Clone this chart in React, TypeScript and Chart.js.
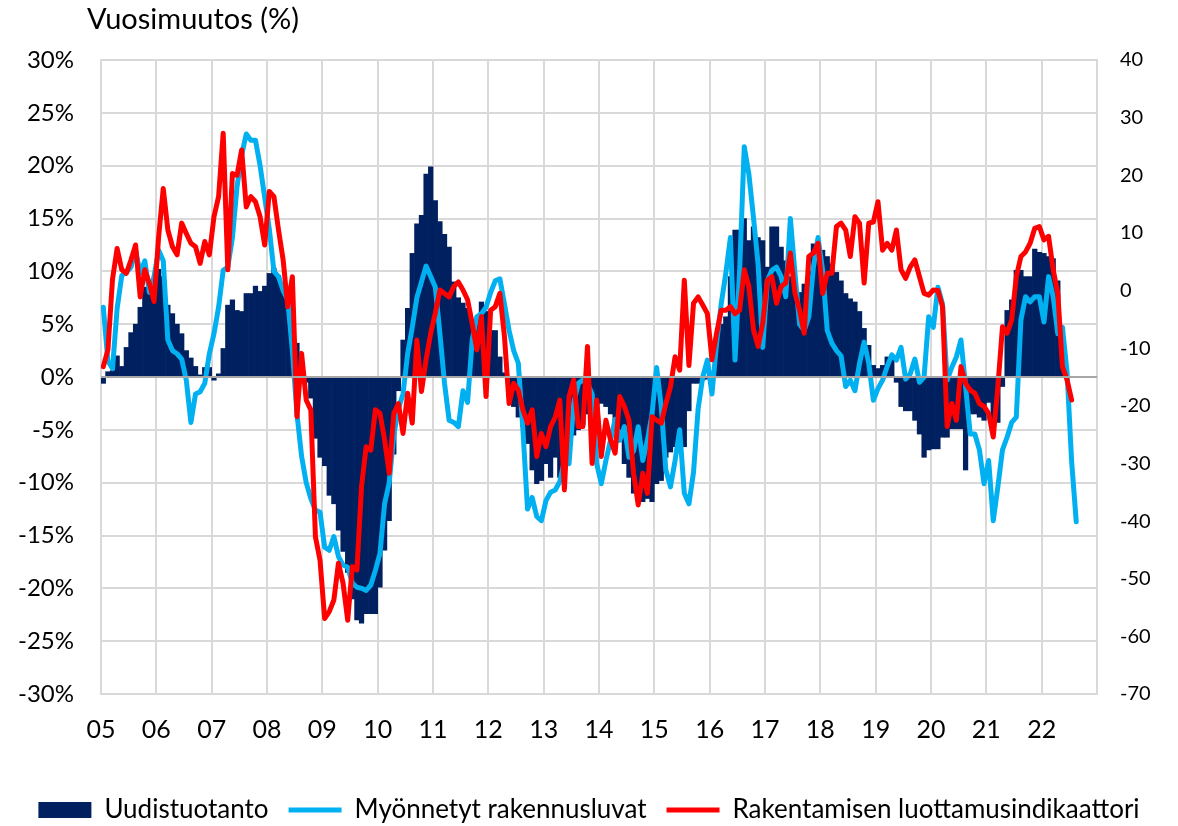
import React, { useEffect, useRef } from 'react';
import { Chart, registerables } from 'chart.js';

Chart.register(...registerables);

// Monthly data starting January 2005
const START_YEAR = 2005;
const END_YEAR = 2023;

// Uudistuotanto, annual change % (left axis)
const newConstruction = [
  -0.6, 0.5, 0.6, 2.0, 1.0, 2.8, 4.2, 5.0, 6.6, 8.5, 7.9, 8.5,
  10.2, 9.5, 6.8, 6.0, 5.0, 4.1, 2.5, 1.8, 1.0, 0.2, 0.9, 0.9,
  -0.3, 0.3, 2.7, 6.8, 7.3, 6.3, 6.2, 7.9, 7.9, 8.6, 8.1, 8.6,
  9.8, 10.3, 9.6, 8.0, 6.5, 4.0, 3.2, 0.8, -0.5, -2.0, -5.8, -7.6,
  -8.4, -11.2, -12.0, -14.5, -16.5, -18.5, -21.0, -23.0, -23.3, -22.4, -22.4, -22.4,
  -19.9, -16.4, -13.6, -7.3, -1.3, 3.5, 6.5, 11.7, 14.5, 15.3, 19.2, 19.9,
  16.7, 14.7, 13.5, 12.3, 9.0, 7.5, 7.0, 6.5, 5.0, 5.5, 7.1, 6.2,
  4.4, 4.4, 1.9, 0.4, -1.3, -2.8, -3.8, -4.7, -6.3, -8.8, -10.1, -9.8,
  -8.2, -9.5, -7.6, -9.5, -6.5, -6.0, -5.5, -5.0, -4.5, -3.5, -2.5, -3.2,
  -2.5, -2.8, -3.5, -4.5, -5.0, -8.2, -9.5, -11.0, -11.7, -11.8, -11.5, -11.8,
  -10.1, -9.8, -7.6, -7.1, -6.6, -6.6, -6.6, -3.2, -0.6, -0.6, -0.3, -0.2,
  0.2, 3.8, 5.0, 5.7, 9.5, 13.9, 13.9, 15.0, 12.9, 14.2, 13.2, 12.9,
  10.4, 14.2, 14.2, 12.3, 11.0, 9.5, 8.5, 8.0, 8.8, 10.0, 12.6, 12.6,
  12.0, 11.4, 10.7, 9.9, 9.1, 7.9, 7.4, 7.1, 6.2, 4.6, 3.0, 1.1,
  0.8, 1.1, 1.9, 1.9, -0.5, -2.8, -3.2, -3.2, -4.1, -5.4, -7.6, -6.9,
  -6.8, -6.8, -5.7, -5.7, -4.9, -4.9, -4.9, -8.8, -3.5, -3.5, -3.8, -4.1,
  -2.4, -4.3, -4.3, -0.9, 6.3, 7.3, 10.1, 10.1, 9.5, 9.5, 12.1, 11.8,
  11.7, 11.4, 11.2, 9.1, 4.7,
];

// Myönnetyt rakennusluvat, annual change % (left axis)
const buildingPermits = [
  6.6, 1.5, 0.8, 6.5, 9.6, 9.9, 10.4, 12.0, 9.8, 11.0, 8.0, 9.5,
  12.0, 11.0, 3.5, 2.5, 2.2, 1.7, -0.3, -4.3, -1.6, -1.4, -0.6, 2.2,
  4.1, 6.6, 10.1, 10.4, 13.2, 18.0, 21.0, 23.0, 22.4, 22.4, 20.0, 17.0,
  14.0, 10.0, 9.5, 8.2, 7.3, 2.5, -3.5, -7.5, -10.0, -11.5, -12.6, -12.8,
  -16.1, -16.4, -15.1, -17.0, -17.8, -18.0, -19.5, -19.9, -20.0, -20.2, -19.7, -18.3,
  -16.7, -12.0, -10.0, -5.5, -3.0, -1.6, 2.2, 4.7, 7.5, 9.0, 10.5, 9.5,
  8.5, 4.1, -0.6, -4.1, -4.3, -4.7, -1.3, -2.4, 3.5, 5.7, 6.0, 6.6,
  8.0, 9.1, 9.3, 6.9, 4.4, 2.5, 1.3, -5.0, -12.5, -11.4, -13.2, -13.6,
  -11.7, -10.9, -10.7, -9.9, -7.9, -8.2, -2.5, -0.6, -0.3, -0.6, -1.6, -8.2,
  -10.1, -7.9, -6.0, -4.0, -6.0, -4.7, -7.6, -7.0, -4.7, -7.9, -6.0, -3.5,
  0.9, -2.8, -8.8, -10.4, -7.9, -5.0, -11.0, -12.0, -9.0, -3.0, 0.0, 1.6,
  -1.6, 3.2, 6.9, 9.8, 13.2, 1.6, 10.1, 21.8, 19.2, 15.1, 10.7, 2.8,
  9.1, 10.1, 10.4, 9.5, 7.6, 15.0, 9.8, 5.0, 4.4, 5.7, 10.4, 13.2,
  10.1, 4.4, 3.2, 2.5, 2.0, -0.9, -0.3, -1.3, 1.3, 3.3, 1.3, -2.2,
  -1.1, -0.3, 1.0, 2.1, 1.6, 2.8, -0.2, 0.3, 1.7, -0.5, 0.0, 5.7,
  4.7, 8.5, 6.9, -0.3, 0.9, 1.9, 3.5, -0.9, -5.4, -5.4, -6.9, -10.1,
  -7.9, -13.6, -10.4, -6.9, -5.7, -4.3, -3.8, 5.4, 7.6, 7.1, 7.6, 7.6,
  5.2, 9.5, 7.6, 4.1, 4.7, 0.5, -8.0, -13.7,
];

// Rakentamisen luottamusindikaattori, balance figure (right axis)
const confidenceIndicator = [
  -13.2, -10.3, 2.0, 7.3, 3.6, 3.0, 5.3, 7.9, -1.1, 3.6, 1.2, -1.9,
  9.3, 17.7, 10.5, 7.6, 6.2, 11.7, 9.9, 8.2, 7.6, 4.7, 8.5, 6.2,
  12.8, 16.3, 27.3, 3.6, 20.3, 20.0, 24.4, 14.5, 16.3, 15.4, 12.8, 7.9,
  17.2, 16.3, 10.5, 5.3, -2.8, 2.4, -21.9, -10.9, -19.0, -20.7, -42.7, -46.8,
  -56.9, -55.7, -53.7, -47.3, -50.8, -57.2, -47.9, -48.5, -34.0, -27.1, -27.7, -20.7,
  -21.3, -25.9, -31.7, -21.3, -19.6, -24.8, -17.8, -23.0, -8.6, -17.5, -12.0, -7.4,
  -3.9, 0.1, -0.5, -1.1, 0.7, 1.5, 0.1, -1.6, -5.7, -10.3, -4.5, -18.4,
  -3.4, -2.8, -0.5, -8.0, -19.6, -16.1, -17.3, -20.7, -23.0, -20.7, -28.8, -24.8,
  -27.1, -23.6, -22.0, -19.0, -34.6, -18.4, -15.5, -23.6, -23.6, -9.7, -30.0, -19.0,
  -28.8, -22.5, -25.9, -28.2, -18.4, -20.1, -22.5, -31.7, -37.2, -31.7, -35.2, -21.9,
  -22.5, -23.0, -19.6, -16.7, -11.5, -13.8, 1.8, -13.0, -2.2, -1.1, -2.5, -4.0,
  -12.0, -7.4, -3.4, -3.4, -2.8, -4.0, -3.4, 3.6, 0.7, -6.8, -9.7, -5.7,
  1.8, 2.4, -2.2, 0.7, 1.3, 6.5, -0.5, -3.4, -7.4, 5.9, 6.5, 8.2,
  -0.5, 3.0, 3.0, 11.1, 11.7, 10.5, 5.9, 12.8, 11.7, 1.3, 11.7, 11.9,
  15.4, 7.0, 8.2, 7.0, 10.5, 3.6, 2.1, 4.1, 5.3, 2.4, -0.5, -0.8,
  0.1, 0.0, -2.8, -23.6, -19.6, -22.5, -13.2, -16.1, -17.3, -17.8, -19.6, -20.1,
  -21.3, -25.4, -16.7, -6.3, -7.4, -5.1, 2.4, 5.9, 6.7, 8.2, 10.8, 11.1,
  8.8, 9.4, 3.6, -0.5, -13.2, -15.5, -19.0,
];

const seriesLabels = ['Uudistuotanto', 'Myönnetyt rakennusluvat', 'Rakentamisen luottamusindikaattori'];
const titleText = 'Vuosimuutos (%)';

// month index -> decimal year (middle of the month)
const monthX = (i: number) => START_YEAR + (i + 0.5) / 12;
const toPoints = (arr: number[]) => arr.map((v, i) => ({ x: monthX(i), y: v }));

const FONT = 'Lato';
const GRID = '#d9d9d9';

export default function App() {
  const ref = useRef<HTMLCanvasElement | null>(null);

  useEffect(() => {
    if (!ref.current) return;

    const titlePlugin = {
      id: 'titleText',
      afterDraw(chart: any) {
        const c = chart.ctx;
        c.save();
        c.font = `29px ${FONT}`;
        c.fillStyle = '#000';
        c.textAlign = 'left';
        c.textBaseline = 'alphabetic';
        c.fillText(titleText, 87, 29);
        c.restore();
      },
    };

    const zeroLinePlugin = {
      id: 'zeroLine',
      afterDatasetsDraw(chart: any) {
        const { ctx, chartArea, scales } = chart;
        const y = scales.y.getPixelForValue(0);
        ctx.save();
        ctx.strokeStyle = '#a6a6a6';
        ctx.lineWidth = 2;
        ctx.beginPath();
        ctx.moveTo(chartArea.left, y);
        ctx.lineTo(chartArea.right, y);
        ctx.stroke();
        ctx.restore();
      },
    };

    Chart.defaults.font.family = FONT;
    Chart.defaults.color = '#000';

    const chart = new Chart(ref.current, {
      type: 'bar',
      data: {
        datasets: [
          {
            type: 'bar',
            label: seriesLabels[0],
            data: toPoints(newConstruction),
            backgroundColor: '#002060',
            borderWidth: 0,
            barPercentage: 1,
            categoryPercentage: 1,
            yAxisID: 'y',
            order: 3,
            pointStyle: 'rect',
          } as any,
          {
            type: 'line',
            label: seriesLabels[1],
            data: toPoints(buildingPermits),
            borderColor: '#00b0f0',
            backgroundColor: '#00b0f0',
            borderWidth: 5,
            pointRadius: 0,
            tension: 0,
            yAxisID: 'y',
            order: 2,
            pointStyle: 'line',
            borderCapStyle: 'round',
            borderJoinStyle: 'round',
          } as any,
          {
            type: 'line',
            label: seriesLabels[2],
            data: toPoints(confidenceIndicator),
            borderColor: '#ff0000',
            backgroundColor: '#ff0000',
            borderWidth: 5,
            pointRadius: 0,
            tension: 0,
            yAxisID: 'y1',
            order: 1,
            pointStyle: 'line',
            borderCapStyle: 'round',
            borderJoinStyle: 'round',
          } as any,
        ],
      },
      options: {
        responsive: false,
        animation: false,
        layout: { padding: { top: 60, left: 0, right: 0, bottom: -7 } },
        plugins: {
          legend: {
            position: 'bottom',
            labels: {
              usePointStyle: true,
              pointStyleWidth: 53,
              boxHeight: 16,
              padding: 20,
              color: '#000',
              font: { size: 26, family: FONT },
              sort: (a: any, b: any) => a.datasetIndex - b.datasetIndex,
            },
          },
          tooltip: { enabled: false },
        },
        scales: {
          x: {
            type: 'linear',
            min: START_YEAR,
            max: END_YEAR,
            offset: false,
            grid: { color: GRID, lineWidth: 2, drawTicks: false, offset: false },
            border: { color: GRID, width: 2 },
            ticks: {
              stepSize: 1,
              autoSkip: false,
              maxRotation: 0,
              padding: 21,
              font: { size: 25, family: FONT },
              callback: (v: any) => (v >= END_YEAR ? '' : String(v).slice(2)),
            },
            afterFit: (s: any) => {
              s.height = 83;
            },
          },
          y: {
            position: 'left',
            min: -30,
            max: 30,
            grid: { color: GRID, lineWidth: 2, drawTicks: false },
            border: { color: GRID, width: 2 },
            ticks: {
              stepSize: 5,
              padding: 27,
              font: { size: 24, family: FONT },
              callback: (v: any) => `${v}%`,
            },
            afterFit: (s: any) => {
              s.width = 101;
            },
          },
          y1: {
            position: 'right',
            min: -70,
            max: 40,
            grid: { drawOnChartArea: false, drawTicks: false },
            border: { color: GRID, width: 2 },
            ticks: {
              stepSize: 10,
              padding: 23,
              font: { size: 20, family: FONT },
            },
            afterFit: (s: any) => {
              s.width = 81;
            },
          },
        },
      } as any,
      plugins: [titlePlugin, zeroLinePlugin],
    });

    return () => chart.destroy();
  }, []);

  return (
    <div style={{ position: 'fixed', left: 0, top: 0, width: 1178, height: 826, background: '#fff' }}>
      <canvas ref={ref} width={1178} height={826} style={{ display: 'block' }} />
    </div>
  );
}
